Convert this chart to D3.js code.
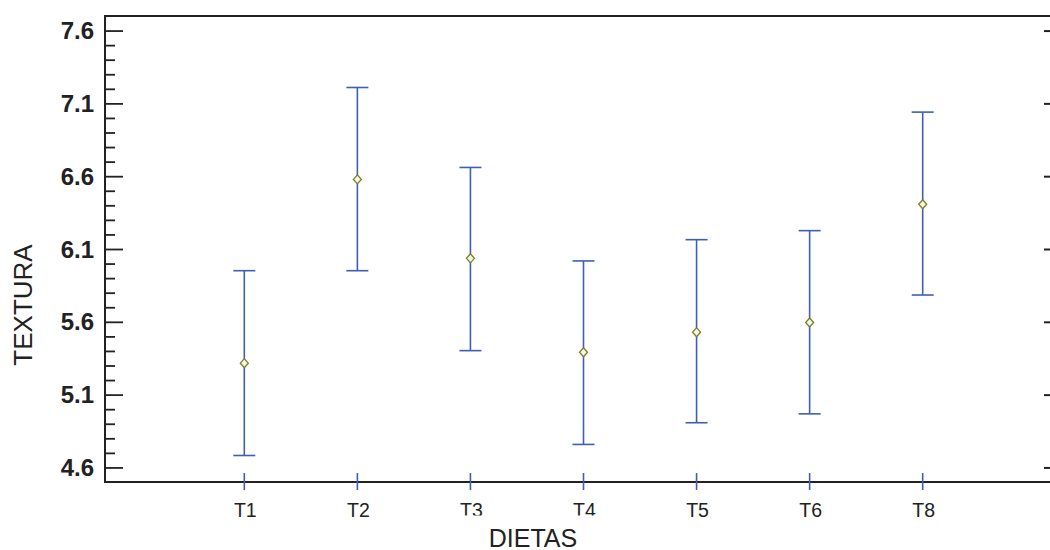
<!DOCTYPE html>
<html>
<head>
<meta charset="utf-8">
<script src="https://cdn.jsdelivr.net/npm/d3@7"></script>
<style>
html,body{margin:0;padding:0;background:#fff;}
svg{display:block;}
</style>
</head>
<body>
<svg id="chart" width="1050" height="550"></svg>
<script>
const categories = ["T1","T2","T3","T4","T5","T6","T8"];
const means = [5.316, 6.578, 6.036, 5.391, 5.529, 5.595, 6.407];
const upper = [5.951, 7.209, 6.660, 6.018, 6.164, 6.226, 7.040];
const lower = [4.682, 5.951, 5.402, 4.758, 4.907, 4.968, 5.784];
const yMajorTicks = [4.6, 5.1, 5.6, 6.1, 6.6, 7.1, 7.6];
const yMinorTicks = [4.7,4.8,4.9,5.0,5.2,5.3,5.4,5.5,5.7,5.8,5.9,6.0,6.2,6.3,6.4,6.5,6.7,6.8,6.9,7.0,7.2,7.3,7.4,7.5];
const xTitle = "DIETAS";
const yTitle = "TEXTURA";

(function () {
const svg = d3.select("#chart");
const pLeft = 105, pRight = 1050, pTop = 16, pBottom = 482;

const y = d3.scaleLinear().domain([4.5, 7.7]).range([pBottom, pTop]);
const x = d3.scalePoint().domain(categories).range([244.3, 922.7]);

const axisColor = "#222";
const barColor = "#3f5fb4";

// frame
svg.append("path")
  .attr("d", `M${pRight},${pTop}H${pLeft}V${pBottom}H${pRight}`)
  .attr("fill", "none").attr("stroke", axisColor).attr("stroke-width", 2);

// left axis ticks
const yAxisMajor = d3.axisRight(y).tickValues(yMajorTicks).tickSize(18).tickFormat("");
const gMaj = svg.append("g").attr("transform", `translate(${pLeft},0)`).call(yAxisMajor);
const yAxisMinor = d3.axisRight(y).tickValues(yMinorTicks).tickSize(10).tickFormat("");
const gMin = svg.append("g").attr("transform", `translate(${pLeft},0)`).call(yAxisMinor);
[gMaj, gMin].forEach(g => {
  g.select(".domain").remove();
  g.selectAll(".tick line").attr("stroke", axisColor).attr("stroke-width", 1.8);
});

// left labels
svg.append("g").selectAll("text").data(yMajorTicks).join("text")
  .attr("x", 94).attr("y", d => y(d)).attr("dy", "0.36em")
  .attr("text-anchor", "end")
  .attr("font-family", "Liberation Sans, Arial, sans-serif")
  .attr("font-weight", "bold").attr("font-size", 24).attr("fill", "#222")
  .text(d => d3.format(".1f")(d));

// right ticks
const yAxisRight = d3.axisLeft(y).tickValues(yMajorTicks).tickSize(6).tickFormat("");
const gR = svg.append("g").attr("transform", `translate(${pRight},0)`).call(yAxisRight);
gR.select(".domain").remove();
gR.selectAll(".tick line").attr("stroke", axisColor).attr("stroke-width", 2);

// x ticks (blue, crossing axis)
svg.append("g").selectAll("line").data(categories).join("line")
  .attr("x1", d => x(d)).attr("x2", d => x(d))
  .attr("y1", 473).attr("y2", 490)
  .attr("stroke", barColor).attr("stroke-width", 1.6);

// x labels
svg.append("g").selectAll("text").data(categories).join("text")
  .attr("x", d => x(d) + 1).attr("y", 517)
  .attr("text-anchor", "middle")
  .attr("font-family", "Liberation Sans, Arial, sans-serif")
  .attr("font-size", 19.5).attr("fill", "#222")
  .text(d => d);

// white box behind x title (clips T3/T4 slightly, as in reference)
svg.append("rect").attr("x", 445).attr("y", 515.5).attr("width", 180).attr("height", 36).attr("fill", "#fff");

svg.append("text")
  .attr("x", 533).attr("y", 546.5).attr("text-anchor", "middle")
  .attr("font-family", "Liberation Sans, Arial, sans-serif")
  .attr("font-size", 25).attr("fill", "#222")
  .text(xTitle);

svg.append("text")
  .attr("transform", "translate(31.5,305) rotate(-90)")
  .attr("text-anchor", "middle")
  .attr("font-family", "Liberation Sans, Arial, sans-serif")
  .attr("font-size", 26).attr("fill", "#222")
  .text(yTitle);

// error bars
const data = categories.map((c, i) => ({c, m: means[i], u: upper[i], l: lower[i]}));
const g = svg.append("g");
g.selectAll("line.v").data(data).join("line").attr("class", "v")
  .attr("x1", d => x(d.c)).attr("x2", d => x(d.c))
  .attr("y1", d => y(d.u)).attr("y2", d => y(d.l))
  .attr("stroke", barColor).attr("stroke-width", 1.6);
g.selectAll("line.cu").data(data).join("line").attr("class", "cu")
  .attr("x1", d => x(d.c) - 11).attr("x2", d => x(d.c) + 11)
  .attr("y1", d => y(d.u)).attr("y2", d => y(d.u))
  .attr("stroke", barColor).attr("stroke-width", 1.6);
g.selectAll("line.cl").data(data).join("line").attr("class", "cl")
  .attr("x1", d => x(d.c) - 11).attr("x2", d => x(d.c) + 11)
  .attr("y1", d => y(d.l)).attr("y2", d => y(d.l))
  .attr("stroke", barColor).attr("stroke-width", 1.6);

// diamonds
g.selectAll("path.m").data(data).join("path").attr("class", "m")
  .attr("d", d => { const cx = x(d.c), cy = y(d.m); return `M${cx},${cy-4.5}L${cx+4},${cy}L${cx},${cy+4.5}L${cx-4},${cy}Z`; })
  .attr("fill", "#f4f6e8").attr("stroke", "#7d7d22").attr("stroke-width", 1.3);
})();
</script>
</body>
</html>
